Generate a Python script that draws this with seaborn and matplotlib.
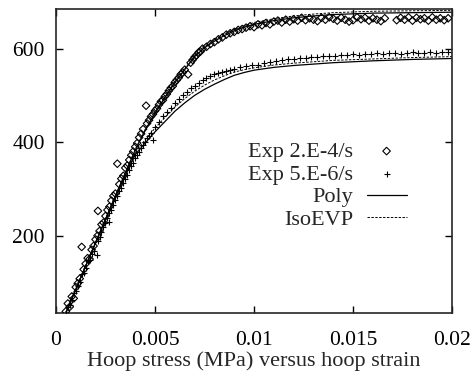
import numpy as np
import pandas as pd
import matplotlib
matplotlib.use("Agg")
import matplotlib.pyplot as plt
import seaborn as sns

# ── Data ───────────────────────────────────────────────────────────────────────

# Experiment at 2.E-4/s (diamonds)
fast_strain = [
    0.0005, 0.0006, 0.0007, 0.0008, 0.0009, 0.0010, 0.0011, 0.0012, 0.0013, 0.0014,
    0.0015, 0.0016, 0.0017, 0.0018, 0.0019, 0.0020, 0.0021, 0.00212, 0.0022, 0.0023,
    0.0024, 0.0025, 0.0026, 0.0027, 0.0028, 0.0029, 0.0030, 0.0031, 0.0032, 0.0033,
    0.0034, 0.0035, 0.0036, 0.0037, 0.0038, 0.0039, 0.0040, 0.0041, 0.0042, 0.0043,
    0.0044, 0.00455, 0.0046, 0.0047, 0.0048, 0.0049, 0.0050, 0.0051, 0.0052, 0.0053,
    0.0054, 0.0055, 0.0056, 0.0057, 0.0058, 0.0059, 0.0060, 0.0061, 0.0062, 0.0063,
    0.0064, 0.0065, 0.00667, 0.0068, 0.0069, 0.0070, 0.0071, 0.0072, 0.0073, 0.0074,
    0.0076, 0.0078, 0.0080, 0.0082, 0.0084, 0.0086, 0.0088, 0.0090, 0.0092, 0.0094,
    0.0096, 0.0098, 0.0100, 0.0102, 0.0104, 0.0106, 0.0108, 0.0110, 0.0112, 0.0114,
    0.0116, 0.0118, 0.0120, 0.0122, 0.0124, 0.0126, 0.0128, 0.0130, 0.0132, 0.0134,
    0.0136, 0.0138, 0.0140, 0.0142, 0.0144, 0.0146, 0.0148, 0.0150, 0.0152, 0.0154,
    0.0156, 0.0158, 0.0160, 0.0162, 0.0164, 0.0166, 0.0172, 0.0174, 0.0176, 0.0178,
    0.0180, 0.0182, 0.0184, 0.0186, 0.0188, 0.0190, 0.0192, 0.0194, 0.0196, 0.0198,
]
fast_stress = [
    38, 55, 48, 70, 66, 90, 98, 108, 176, 128,
    140, 152, 150, 170, 178, 192, 200, 253, 210, 224,
    228, 242, 255, 262, 275, 285, 290, 354, 310, 322,
    328, 345, 350, 362, 372, 380, 390, 398, 410, 418,
    428, 478, 440, 447, 455, 460, 467, 472, 480, 487,
    490, 498, 503, 510, 516, 520, 528, 533, 538, 545,
    549, 555, 545, 570, 576, 582, 586, 592, 594, 600,
    604, 610, 614, 620, 624, 630, 633, 636, 640, 642,
    645, 648, 646, 652, 650, 655, 652, 658, 660, 656,
    662, 658, 663, 660, 666, 661, 665, 662, 659, 666,
    662, 667, 664, 660, 666, 662, 658, 661, 667, 663,
    666, 660, 665, 662, 659, 665, 661, 666, 662, 667,
    660, 666, 663, 665, 660, 667, 662, 665, 661, 665,
]

# Experiment at 5.E-6/s (plus signs)
slow_strain = [
    0.0005, 0.0006, 0.0007, 0.0008, 0.0009, 0.0010, 0.0011, 0.0012, 0.0013, 0.0014,
    0.0015, 0.0016, 0.0017, 0.0018, 0.0019, 0.00207, 0.0021, 0.0022, 0.0023, 0.0024,
    0.0025, 0.0026, 0.00268, 0.0027, 0.0028, 0.0029, 0.0030, 0.0031, 0.0032, 0.0033,
    0.0034, 0.0035, 0.0036, 0.0037, 0.0038, 0.0039, 0.0040, 0.0041, 0.0042, 0.0043,
    0.0044, 0.0045, 0.0046, 0.0047, 0.0048, 0.0049, 0.0050, 0.0052, 0.0054, 0.0056,
    0.0058, 0.0060, 0.0062, 0.0064, 0.0066, 0.0068, 0.0070, 0.0072, 0.0074, 0.0076,
    0.0078, 0.0080, 0.0082, 0.0084, 0.0086, 0.0088, 0.0090, 0.0093, 0.0096, 0.0099,
    0.0102, 0.0105, 0.0108, 0.0111, 0.0114, 0.0117, 0.0120, 0.0123, 0.0126, 0.0129,
    0.0132, 0.0135, 0.0138, 0.0141, 0.0144, 0.0147, 0.0150, 0.0153, 0.0156, 0.0159,
    0.0162, 0.0165, 0.0168, 0.0171, 0.0174, 0.0177, 0.0180, 0.0183, 0.0186, 0.0189,
    0.0192, 0.0195, 0.0198,
]
slow_stress = [
    33, 48, 52, 62, 78, 82, 92, 100, 118, 120,
    130, 145, 148, 160, 168, 159, 188, 198, 208, 218,
    228, 238, 230, 248, 256, 266, 276, 284, 295, 302,
    312, 322, 330, 340, 350, 356, 366, 372, 380, 388,
    395, 400, 408, 414, 420, 405, 432, 443, 455, 464,
    474, 484, 492, 500, 508, 515, 520, 526, 532, 537,
    541, 545, 548, 551, 553, 555, 557, 560, 562, 565,
    566, 570, 571, 574, 575, 578, 578, 580, 581, 583,
    582, 584, 585, 584, 587, 586, 588, 587, 589, 588,
    590, 589, 590, 591, 588, 590, 592, 590, 591, 593,
    590, 592, 593,
]

# Model curves (strain, stress)
model_strain = [0.0005, 0.001, 0.002, 0.003, 0.004, 0.0045, 0.005, 0.0055, 0.006,
                0.0065, 0.007, 0.0075, 0.008, 0.0085, 0.009, 0.0095, 0.010, 0.011,
                0.012, 0.013, 0.014, 0.016, 0.018, 0.020]
poly_fast = [35, 85, 185, 285, 383, 425, 462, 495, 527,
             555, 583, 602, 616, 628, 638, 646, 652, 660,
             666, 670, 673, 676, 677, 678]
iso_fast = [35, 85, 185, 285, 384, 427, 464, 497, 529,
            557, 585, 604, 619, 631, 641, 649, 656, 664,
            670, 674, 677, 680, 681, 682]
poly_slow = [35, 85, 185, 283, 373, 398, 422, 444, 466,
             484, 500, 513, 524, 534, 543, 549, 554, 560,
             564, 567, 570, 574, 577, 579]
iso_slow = [35, 85, 185, 284, 377, 405, 430, 453, 475,
            493, 509, 522, 533, 542, 550, 555, 559, 565,
            569, 572, 575, 578, 581, 583]

# ── Figure ─────────────────────────────────────────────────────────────────────

sns.set_style("ticks")
plt.rcParams["font.family"] = ["Liberation Serif", "DejaVu Serif"]
plt.rcParams["axes.linewidth"] = 1.2
plt.rcParams["xtick.direction"] = "in"
plt.rcParams["ytick.direction"] = "in"

fast_df = pd.DataFrame({"strain": fast_strain, "stress": fast_stress})
slow_df = pd.DataFrame({"strain": slow_strain, "stress": slow_stress})
model_df = pd.DataFrame({"strain": model_strain, "pf": poly_fast, "if": iso_fast,
                         "ps": poly_slow, "is": iso_slow})

fig = plt.figure(figsize=(4.70, 3.72), dpi=100)
ax = fig.add_axes([0.119, 0.159, 0.843, 0.817])

sns.scatterplot(data=fast_df, x="strain", y="stress", ax=ax, marker="D", s=15,
                facecolor="none", edgecolor="black", linewidth=0.8,
                label="Exp 2.E-4/s", zorder=3)
sns.scatterplot(data=slow_df, x="strain", y="stress", ax=ax, marker="+", s=24,
                color="black", linewidth=0.8, label="Exp 5.E-6/s", zorder=3)
sns.lineplot(data=model_df, x="strain", y="pf", ax=ax, color="black", lw=0.9,
             label="Poly")
sns.lineplot(data=model_df, x="strain", y="if", ax=ax, color="black", lw=0.7,
             ls=(0, (2.5, 1.5)), label="IsoEVP")
sns.lineplot(data=model_df, x="strain", y="ps", ax=ax, color="black", lw=0.9)
sns.lineplot(data=model_df, x="strain", y="is", ax=ax, color="black", lw=0.7,
             ls=(0, (2.5, 1.5)))

ax.set_xlim(0, 0.02)
ax.set_ylim(35, 685)
ax.set_xticks([0, 0.005, 0.01, 0.015, 0.02])
ax.set_xticklabels(["0", "0.005", "0.01", "0.015", "0.02"])
ax.set_yticks([200, 400, 600])
ax.tick_params(axis="both", labelsize=15.5, length=5, width=1,
               top=True, right=True, colors="black")
ax.tick_params(axis="x", pad=13)
ax.tick_params(axis="y", pad=8)
ax.set_xlabel("Hoop stress (MPa) versus hoop strain", fontsize=16, labelpad=1)
ax.set_ylabel("")

ax.legend(loc="center right", bbox_to_anchor=(0.885, 0.418), frameon=False,
          markerfirst=False, fontsize=16, handlelength=1.8, handletextpad=0.6,
          labelspacing=0.1, borderpad=0, borderaxespad=0)

plt.savefig("out.png", dpi=100)
